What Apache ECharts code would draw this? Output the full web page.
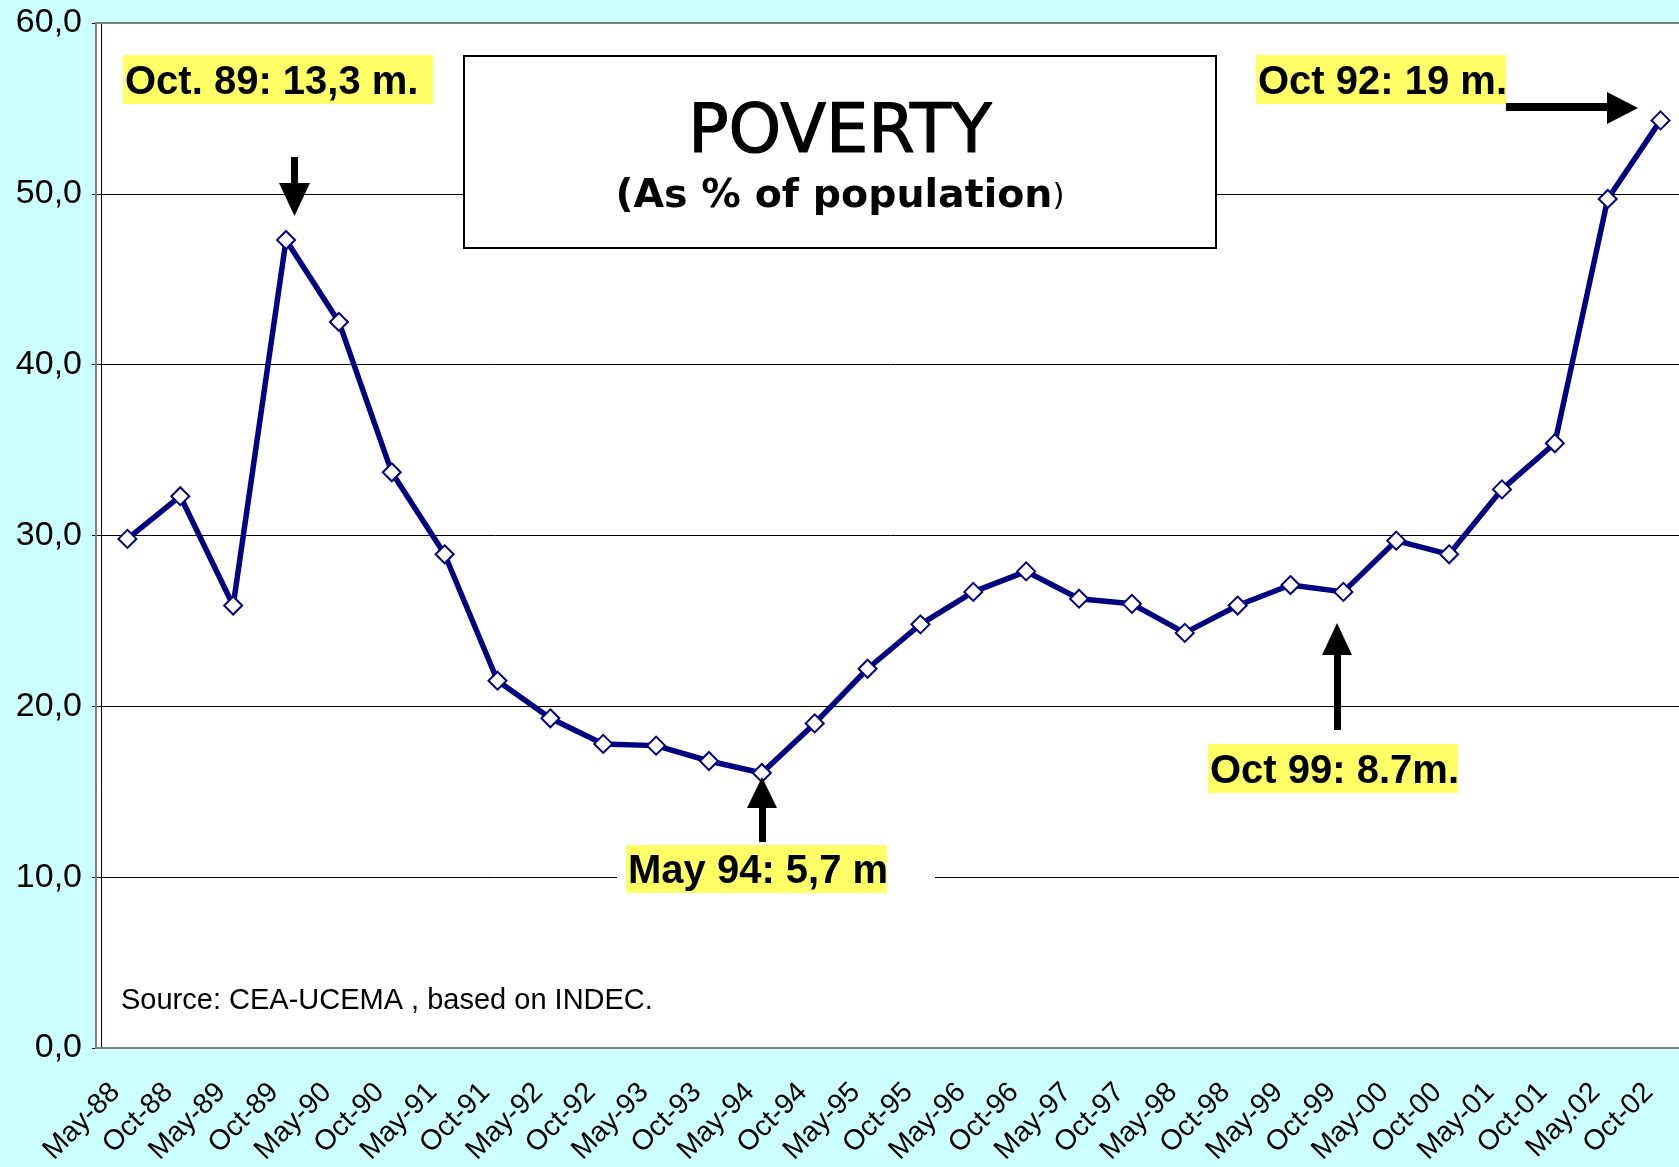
<!DOCTYPE html>
<html>
<head>
<meta charset="utf-8">
<title>Poverty</title>
<script src="https://cdn.jsdelivr.net/npm/echarts@6/dist/echarts.min.js"></script>
<style>
  html, body { margin: 0; padding: 0; background: #ccffff; }
  #chart { width: 1679px; height: 1167px; }
</style>
</head>
<body>
<div id="chart"></div>
<script>
// survey waves (EPH, May / October)
const months = ['May-88', 'Oct-88', 'May-89', 'Oct-89', 'May-90', 'Oct-90', 'May-91', 'Oct-91',
  'May-92', 'Oct-92', 'May-93', 'Oct-93', 'May-94', 'Oct-94', 'May-95', 'Oct-95',
  'May-96', 'Oct-96', 'May-97', 'Oct-97', 'May-98', 'Oct-98', 'May-99', 'Oct-99',
  'May-00', 'Oct-00', 'May-01', 'Oct-01', 'May.02', 'Oct-02']
// poverty, % of population
const poverty = [29.8, 32.3, 25.9, 47.3, 42.5, 33.7, 28.9, 21.5,
  19.3, 17.8, 17.7, 16.8, 16.1, 19.0, 22.2, 24.8,
  26.7, 27.9, 26.3, 26.0, 24.3, 25.9, 27.1, 26.7,
  29.7, 28.9, 32.7, 35.4, 49.7, 54.3]
const yTicks = [0, 10, 20, 30, 40, 50, 60]

const titleText = 'POVERTY'
const subtitleText = '(As % of population'
const sourceText = 'Source: CEA-UCEMA , based on INDEC.'
const notes = ['Oct. 89: 13,3 m.', 'Oct 92: 19 m.', 'May 94: 5,7 m', 'Oct 99: 8.7m.']

var myChart = echarts.init(document.getElementById('chart'))

const noteFont = 'bold 40px "Liberation Sans", Arial, sans-serif'
const yellow = '#ffff66'

function noteBox(x, y, w, h, text) {
  return [
    { type: 'rect', z: 20, shape: { x: x, y: y, width: w, height: h }, style: { fill: yellow } },
    { type: 'text', z: 21, style: { x: x + 2, y: y + h / 2 + 3, text: text, font: noteFont, fill: '#000',
      textAlign: 'left', textVerticalAlign: 'middle' } }
  ]
}

function arrow(shaft, head) {
  return [
    { type: 'rect', z: 22, shape: shaft, style: { fill: '#000' } },
    { type: 'polygon', z: 22, shape: { points: head }, style: { fill: '#000' } }
  ]
}

let graphics = [
  // plot area background + frame
  { type: 'rect', z: -1, shape: { x: 96, y: 23, width: 1600, height: 1025 }, style: { fill: '#fff' } },
  { type: 'rect', z: 50, shape: { x: 96, y: 23, width: 1600, height: 1025 },
    style: { fill: null, stroke: '#808080', lineWidth: 2 } },
  // title box
  { type: 'rect', z: 10, shape: { x: 464, y: 56, width: 752, height: 192 },
    style: { fill: '#fff', stroke: '#000', lineWidth: 2 } },
  { type: 'text', z: 11, style: { x: 840, y: 135, text: titleText, textAlign: 'center', textVerticalAlign: 'middle',
    font: 'normal 67px "DejaVu Sans", Verdana, sans-serif', fill: '#000', stroke: '#000', lineWidth: 1.2 } },
  { type: 'text', z: 11, style: { x: 840, y: 197, textAlign: 'center', textVerticalAlign: 'middle',
    text: '{a|' + subtitleText + '}{b|)}',
    rich: {
      a: { fontFamily: 'DejaVu Sans', fontWeight: 'bold', fontSize: 39.5, color: '#000' },
      b: { fontFamily: 'DejaVu Sans', fontWeight: 'normal', fontSize: 31, color: '#000' }
    } } },
  // white text frame behind the May 94 note (breaks the 10,0 grid line)
  { type: 'rect', z: 15, shape: { x: 617, y: 838, width: 318, height: 62 }, style: { fill: '#fff' } },
  { type: 'text', z: 11, style: { x: 121, y: 1001, text: sourceText, textAlign: 'left', textVerticalAlign: 'middle',
    font: '29px "Liberation Sans", Arial, sans-serif', fill: '#000' } }
]
graphics = graphics
  .concat(noteBox(123, 55, 310, 49, notes[0]))
  .concat(noteBox(1256, 55, 250, 49, notes[1]))
  .concat(noteBox(626, 845, 261, 48, notes[2]))
  .concat(noteBox(1208, 744, 250, 49, notes[3]))
  .concat(arrow({ x: 291, y: 157, width: 7, height: 28 }, [[279, 183], [310, 183], [294.5, 216]]))
  .concat(arrow({ x: 1506, y: 103, width: 102, height: 8 }, [[1607, 92], [1607, 124], [1638, 108]]))
  .concat(arrow({ x: 759, y: 806, width: 7, height: 36 }, [[747, 808], [777, 808], [762, 777]]))
  .concat(arrow({ x: 1334, y: 653, width: 7, height: 77 }, [[1322, 655], [1352, 655], [1337, 623]]))

let option = {
  backgroundColor: '#ccffff',
  animation: false,
  grid: { left: 101, top: 23, width: 1586, height: 1025, outerBoundsMode: 'none', containLabel: false },
  xAxis: {
    type: 'category',
    data: months,
    boundaryGap: true,
    axisLine: { lineStyle: { color: '#404040', width: 2 } },
    axisTick: { interval: 0, length: 9, lineStyle: { color: '#000' } },
    axisLabel: { interval: 0, rotate: 45, margin: 28, padding: [0, 17, 0, 0], color: '#000', fontSize: 28.5,
      fontFamily: '"Liberation Sans", Arial, sans-serif' }
  },
  yAxis: {
    type: 'value',
    min: yTicks[0],
    max: yTicks[yTicks.length - 1],
    interval: 10,
    axisLine: { show: true, lineStyle: { color: '#000', width: 1 } },
    axisTick: { show: true, length: 9, lineStyle: { color: '#000' } },
    splitLine: { lineStyle: { color: '#000', width: 1 } },
    axisLabel: { margin: 19, color: '#000', fontSize: 34, fontFamily: '"Liberation Sans", Arial, sans-serif',
      formatter: function (v) { return v.toFixed(1).replace('.', ',') } }
  },
  series: [
    {
      name: 'Poverty',
      type: 'line',
      data: poverty,
      symbol: 'diamond',
      symbolSize: 18,
      z: 5,
      lineStyle: { color: '#000080', width: 5.5 },
      itemStyle: { color: '#fff', borderColor: '#000080', borderWidth: 2 }
    }
  ],
  graphic: { elements: graphics }
}

myChart.setOption(option)
</script>
</body>
</html>
